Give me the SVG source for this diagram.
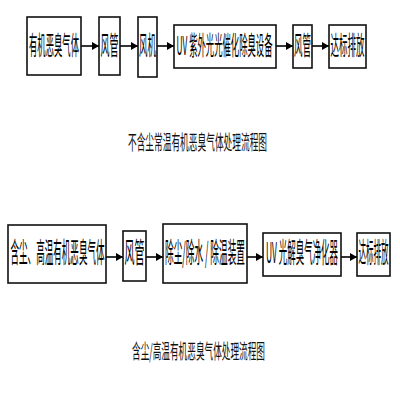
<svg xmlns="http://www.w3.org/2000/svg" width="400" height="400" viewBox="0 0 400 400">
<defs>
<marker id="ah" markerWidth="8" markerHeight="8" refX="7" refY="4" orient="auto" markerUnits="userSpaceOnUse">
<path d="M0,0 L7,4 L0,8 Z" fill="#000"/>
</marker>
</defs>
<style>
.box{fill:#fff;stroke:#111;stroke-width:1.6}
.t{font-family:"Noto Sans CJK SC","Noto Sans",sans-serif;fill:#000;text-anchor:middle}
.r1{font-size:26px}
.r2{font-size:28px}
.cap{font-size:20px;fill:#111}
.c{stroke:#000;stroke-width:1.6;fill:none;marker-end:url(#ah)}
</style>
<rect width="400" height="400" fill="#fff"/>
<g id="connectors">
<line class="c" x1="81" y1="46" x2="99" y2="46"/>
<line class="c" x1="120" y1="46" x2="138" y2="46"/>
<line class="c" x1="157" y1="46" x2="174" y2="46"/>
<line class="c" x1="276" y1="46" x2="293" y2="46"/>
<line class="c" x1="312" y1="46" x2="329" y2="46"/>
<line class="c" x1="106" y1="257" x2="123" y2="257"/>
<line class="c" x1="146" y1="257" x2="163" y2="257"/>
<line class="c" x1="247" y1="257" x2="263" y2="257"/>
<line class="c" x1="341" y1="257" x2="357" y2="257"/>
</g>
<g id="n1"><rect class="box" x="27" y="17" width="54" height="58"/><text class="t r1" transform="translate(54,55) scale(0.33,1)" textLength="151.5" lengthAdjust="spacingAndGlyphs">有机恶臭气体</text></g>
<g id="n2"><rect class="box" x="99" y="17" width="21" height="58"/><text class="t r1" transform="translate(109.5,55) scale(0.33,1)" textLength="54.5" lengthAdjust="spacingAndGlyphs">风管</text></g>
<g id="n3"><rect class="box" x="138" y="17" width="19" height="60"/><text class="t r1" transform="translate(147.5,55) scale(0.33,1)" textLength="51.5" lengthAdjust="spacingAndGlyphs">风机</text></g>
<g id="n4"><rect class="box" x="174" y="25" width="102" height="43"/><text class="t r1" transform="translate(224.5,55) scale(0.33,1)" textLength="291" lengthAdjust="spacingAndGlyphs">UV 紫外光光催化除臭设备</text></g>
<g id="n5"><rect class="box" x="293" y="25" width="19" height="43"/><text class="t r1" transform="translate(302.5,55) scale(0.33,1)" textLength="51.5" lengthAdjust="spacingAndGlyphs">风管</text></g>
<g id="n6"><rect class="box" x="329" y="25" width="37" height="43"/><text class="t r1" transform="translate(347.5,55) scale(0.33,1)" textLength="103" lengthAdjust="spacingAndGlyphs">达标排放</text></g>
<g id="cap1"><text class="t cap" transform="translate(197.5,150) scale(0.45,1)" textLength="309" lengthAdjust="spacingAndGlyphs">不含尘常温有机恶臭气体处理流程图</text></g>
<g id="m1"><rect class="box" x="8" y="225" width="98" height="58"/><text class="t r2" transform="translate(57.5,263) scale(0.33,1)" textLength="285" lengthAdjust="spacingAndGlyphs">含尘、高温有机恶臭气体</text></g>
<g id="m2"><rect class="box" x="123" y="231" width="23" height="50"/><text class="t r2" transform="translate(134.5,263) scale(0.33,1)" textLength="60.6" lengthAdjust="spacingAndGlyphs">风管</text></g>
<g id="m3"><rect class="box" x="163" y="224" width="84" height="59"/><text class="t r2" transform="translate(205,263) scale(0.33,1)" textLength="242" lengthAdjust="spacingAndGlyphs">除尘/除水 / 除温装置</text></g>
<g id="m4"><rect class="box" x="263" y="233" width="78" height="43"/><text class="t r2" transform="translate(302,263) scale(0.33,1)" textLength="218" lengthAdjust="spacingAndGlyphs">UV 光解臭气净化器</text></g>
<g id="m5"><rect class="box" x="357" y="233" width="33" height="43"/><text class="t r2" transform="translate(373.5,263) scale(0.33,1)" textLength="91" lengthAdjust="spacingAndGlyphs">达标排放</text></g>
<g id="cap2"><text class="t cap" transform="translate(198.5,359) scale(0.45,1)" textLength="295.5" lengthAdjust="spacingAndGlyphs">含尘/高温有机恶臭气体处理流程图</text></g>
</svg>
